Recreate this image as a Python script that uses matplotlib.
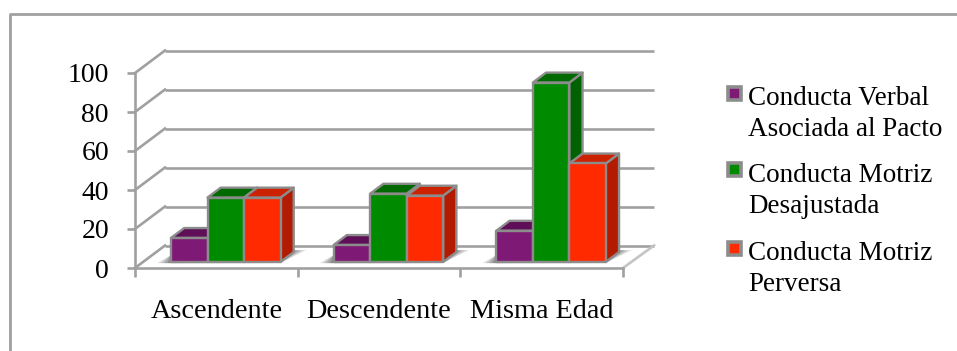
import matplotlib
matplotlib.use("Agg")
import matplotlib.pyplot as plt
from matplotlib.patches import Polygon, Rectangle

CATEGORIES = ["Ascendente", "Descendente", "Misma Edad"]
SERIES = ["Conducta Verbal\nAsociada al Pacto",
          "Conducta Motriz\nDesajustada",
          "Conducta Motriz\nPerversa"]
VERBAL = [12.3, 8.7, 16]
DESAJUSTADA = [33, 35, 92]
PERVERSA = [33, 34, 50.5]
Y_TICKS = [0, 20, 40, 60, 80, 100]

FRONT = ["#7e1a76", "#008a00", "#ff2a00"]
TOP = ["#5e0f58", "#006a00", "#cc2200"]
SIDE = ["#5e0f58", "#006200", "#b31b00"]
EDGE = "#8c8c8c"
GRID = "#a0a0a0"
W, H = 957, 351
X0, X1, Y0, Y100 = 135, 623, 268, 73
FONT_SIZE = 19.5

plt.rcParams["font.family"] = ["Liberation Serif", "DejaVu Serif"]

fig = plt.figure(figsize=(W / 100, H / 100), dpi=100)
ax = fig.add_axes([X0 / W, 1 - Y0 / H, (X1 - X0) / W, (Y0 - Y100) / H])
ax.set_xlim(0, 3)
ax.set_ylim(0, 100)
ax.patch.set_alpha(0)

px_x = 3 / (X1 - X0)
px_y = 100 / (Y0 - Y100)
DEPTH_X, DEPTH_Y = 30, 22.5


def proj(x, v, d):
    # oblique projection: d=0 front of the floor, d=1 back wall
    return x + d * DEPTH_X * px_x, v + d * DEPTH_Y * px_y


# walls and gridlines
right_end = (654 - X0) * px_x
for v in Y_TICKS:
    a, b = proj(0, v, 0), proj(0, v, 1)
    ax.plot([a[0], b[0]], [a[1], b[1]], color=GRID, lw=1.9, clip_on=False, zorder=1)
    ax.plot([b[0], right_end], [b[1], b[1]], color=GRID, lw=1.9,
            clip_on=False, zorder=1, solid_capstyle="butt")
fx, fy = proj(3, 0, 0)
ax.plot([fx, right_end], [fy, proj(3, 0, 1)[1]], color="#c4c4c4", lw=1.9,
        clip_on=False, zorder=1)

# bars
bar_w = 36.5 * px_x
d0, d1 = 0.27, 0.71
all_vals = [VERBAL, DESAJUSTADA, PERVERSA]
for i in range(3):
    gx = i + 36 * px_x - d0 * DEPTH_X * px_x
    # soft floor shadow, stacked polygons fade towards the edge
    xl = proj(gx, 0, d0)[0]
    xr = proj(gx + 3 * bar_w, 0, d0)[0]
    for grow, a in zip([1.0, 0.75, 0.5, 0.25], [0.18, 0.22, 0.26, 0.3]):
        ax.add_patch(Polygon([(xl - 14 * grow * px_x, 2.5),
                              (xl, 13 * px_y),
                              (xr + 12 * px_x + 14 * grow * px_x, 18 * px_y),
                              (xr, 5 * px_y)],
                             fc="#555555", ec="none", alpha=a, clip_on=False, zorder=2))
    for s in range(3):
        v = all_vals[s][i]
        x = gx + s * bar_w
        kw = dict(ec=EDGE, lw=1.7, clip_on=False, joinstyle="round")
        z = 3 + s + i * 5
        ax.add_patch(Polygon([proj(x + bar_w, 0, d0), proj(x + bar_w, 0, d1),
                              proj(x + bar_w, v, d1), proj(x + bar_w, v, d0)],
                             fc=SIDE[s], zorder=z, **kw))
        ax.add_patch(Polygon([proj(x, v, d0), proj(x, v, d1),
                              proj(x + bar_w, v, d1), proj(x + bar_w, v, d0)],
                             fc=TOP[s], zorder=z, **kw))
        ax.add_patch(Polygon([proj(x, 0, d0), proj(x + bar_w, 0, d0),
                              proj(x + bar_w, v, d0), proj(x, v, d0)],
                             fc=FRONT[s], zorder=z + 0.5, **kw))

# axes
ax.spines[["top", "right"]].set_visible(False)
for side in ["left", "bottom"]:
    ax.spines[side].set_color(GRID)
    ax.spines[side].set_linewidth(1.9)
ax.set_yticks(Y_TICKS)
ax.set_xticks([0, 1, 2, 3])
ax.set_xticklabels([])
ax.set_xticks([0.5, 1.5, 2.5], labels=CATEGORIES, minor=True)
ax.tick_params(axis="y", length=5.8, width=1.9, color=GRID, labelsize=20, pad=13)
ax.tick_params(axis="x", which="major", length=6.5, width=1.9, color=GRID)
ax.tick_params(axis="x", which="minor", length=0, labelsize=20.3, pad=22.5)

# legend, drawn by hand so the swatches sit on the first text line
for s, (label, top, base) in enumerate(zip(SERIES, [86.5, 163.5, 241.5], [136, 213, 291])):
    fig.patches.append(Rectangle((727.5 / W, 1 - (top + 13) / H), 13 / W, 13 / H,
                                 transform=fig.transFigure, fc=FRONT[s],
                                 ec=EDGE, lw=2.6))
    fig.text(748 / W, 1 - base / H, label, fontsize=FONT_SIZE, va="baseline",
             ha="left", linespacing=1.31)

# outer frame
fig.add_artist(plt.Line2D([9.5 / W, 9.5 / W, 1], [0, 1 - 14 / H, 1 - 14 / H],
                          color=GRID, lw=2))

fig.savefig("out.png", dpi=100)
